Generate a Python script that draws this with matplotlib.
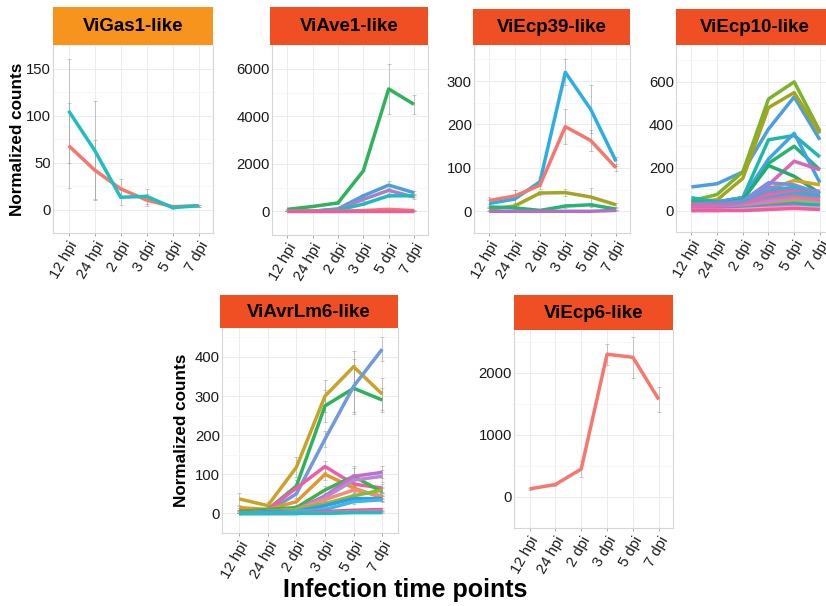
import matplotlib
matplotlib.use("Agg")
import matplotlib.pyplot as plt
import numpy as np

plt.rcParams['font.family'] = ['Liberation Sans', 'DejaVu Sans']

timepoints = ['12 hpi', '24 hpi', '2 dpi', '3 dpi', '5 dpi', '7 dpi']

# ---------------- data ----------------
gas1_series = [
    [68, 42, 22, 10, 3, 4],
    [105, 63, 13, 14, 2, 4],
]
gas1_err = [
    [45, 32, 10, 6, 1, 1],
    [55, 52, 8, 8, 1, 1],
]
gas1_colors = ['#F8766D', '#1DBFC0']

ave1_series = [
    [80, 200, 350, 1700, 5150, 4500],
    [0, 0, 100, 650, 1100, 780],
    [0, 0, 80, 500, 880, 600],
    [0, 0, 50, 300, 650, 650],
    [0, 0, 0, 30, 80, 30],
    [0, 0, 0, 0, 0, 0],
]
ave1_err = [
    [20, 40, 60, 0, 1050, 400],
    [0, 0, 20, 60, 180, 90],
    [0, 0, 15, 50, 120, 70],
    [0, 0, 10, 40, 60, 60],
    [0, 0, 0, 10, 20, 10],
    [0, 0, 0, 0, 0, 0],
]
ave1_colors = ['#2DB35A', '#4A9FE0', '#B07CC8', '#1BBCC0', '#F8766D', '#E6609E']

ecp39_series = [
    [18, 28, 68, 320, 235, 115],
    [25, 35, 60, 195, 163, 100],
    [5, 12, 42, 43, 33, 15],
    [10, 8, 2, 12, 15, 5],
    [0, 0, 0, 0, 0, 2],
]
ecp39_err = [
    [8, 22, 10, 30, 55, 10],
    [8, 15, 8, 40, 25, 8],
    [3, 5, 5, 8, 20, 5],
    [3, 3, 1, 4, 4, 2],
    [0, 0, 0, 0, 0, 1],
]
ecp39_colors = ['#2AAEE6', '#F8766D', '#A3A520', '#22B574', '#B36FC8']

ecp10_series = [
    [110, 125, 180, 380, 530, 330],
    [45, 75, 180, 520, 600, 370],
    [40, 50, 150, 480, 550, 360],
    [60, 40, 60, 330, 350, 250],
    [40, 40, 60, 220, 300, 190],
    [30, 40, 60, 240, 360, 130],
    [30, 30, 40, 120, 230, 190],
    [20, 30, 50, 210, 160, 80],
    [20, 20, 40, 100, 140, 120],
    [15, 25, 40, 110, 100, 90],
    [30, 30, 45, 130, 120, 80],
    [10, 20, 35, 90, 110, 60],
    [25, 25, 30, 80, 95, 70],
    [15, 15, 25, 70, 85, 55],
    [10, 15, 25, 60, 80, 70],
    [20, 20, 30, 55, 70, 40],
    [5, 10, 20, 45, 60, 45],
    [10, 10, 15, 40, 50, 35],
    [5, 5, 10, 30, 45, 30],
    [10, 10, 10, 25, 35, 20],
    [0, 5, 10, 20, 30, 25],
    [5, 5, 5, 15, 20, 10],
    [0, 0, 5, 10, 15, 10],
    [0, 0, 0, 5, 10, 5],
]
ecp10_colors = ['#4A9FE0', '#7CB32B', '#A3A520', '#1CB8A8', '#22B574', '#3FA4E3',
                '#D966B8', '#1FAE6E', '#D9A21B', '#9E80D6', '#7B8FE0', '#17BCE3',
                '#F06292', '#E46BBF', '#29B6D6', '#B07CC8', '#F8766D', '#C77CFF',
                '#8BC34A', '#F0609C', '#00BFC4', '#E46BBF', '#F5A0C0', '#EC5F9E']

avr_series = [
    [37, 20, 118, 300, 375, 305],
    [10, 10, 70, 275, 320, 290],
    [5, 5, 50, 190, 325, 420],
    [5, 10, 65, 120, 75, 65],
    [15, 10, 30, 100, 65, 40],
    [5, 10, 15, 60, 95, 55],
    [0, 5, 10, 45, 95, 105],
    [0, 5, 10, 40, 85, 95],
    [0, 5, 10, 35, 60, 45],
    [0, 5, 10, 25, 45, 60],
    [0, 5, 5, 20, 38, 38],
    [0, 0, 5, 10, 30, 35],
    [0, 0, 0, 5, 8, 10],
    [0, 0, 0, 3, 5, 8],
    [0, 0, 0, 0, 2, 2],
]
avr_err = [
    [15, 8, 25, 40, 40, 40],
    [5, 5, 15, 40, 60, 30],
    [3, 3, 10, 20, 70, 30],
    [3, 3, 10, 15, 20, 10],
    [5, 3, 8, 15, 15, 8],
    [2, 3, 5, 10, 20, 10],
    [0, 2, 4, 8, 25, 15],
    [0, 2, 4, 8, 15, 15],
    [0, 2, 4, 6, 10, 8],
    [0, 2, 4, 5, 8, 8],
    [0, 2, 2, 4, 6, 6],
    [0, 0, 2, 3, 5, 5],
    [0, 0, 0, 2, 2, 3],
    [0, 0, 0, 1, 2, 2],
    [0, 0, 0, 0, 1, 1],
]
avr_colors = ['#C9A227', '#2DB35A', '#7199DD', '#EE5EA6', '#E0982A', '#3BB34A',
              '#C06FD0', '#B889D4', '#F28C7C', '#8DB83A', '#2E9FE0', '#3DB6E8',
              '#F0506E', '#E46BBF', '#1DBFC0']

ecp6_series = [
    [130, 200, 450, 2300, 2250, 1570],
]
ecp6_err = [
    [20, 30, 130, 170, 330, 200],
]
ecp6_colors = ['#F8766D']

panels = [
    dict(title='ViGas1-like', strip='#F7941D', series=gas1_series, err=gas1_err,
         colors=gas1_colors, ylim=(-7.4, 167), yticks=[0, 50, 100, 150],
         box=(53, 45, 213, 233), stripbox=(53, 7, 213, 45), ylabel_x=25),
    dict(title='ViAve1-like', strip='#F04E23', series=ave1_series, err=ave1_err,
         colors=ave1_colors, ylim=(-287, 6539), yticks=[0, 2000, 4000, 6000],
         box=(272, 45, 428, 235), stripbox=(270, 7, 428, 45), ylabel_x=None),
    dict(title='ViEcp39-like', strip='#F04E23', series=ecp39_series, err=ecp39_err,
         colors=ecp39_colors, ylim=(-17, 383), yticks=[0, 100, 200, 300],
         box=(474, 45, 630, 233), stripbox=(473, 9, 630, 45), ylabel_x=None),
    dict(title='ViEcp10-like', strip='#F04E23', series=ecp10_series, err=None,
         colors=ecp10_colors, ylim=(-53, 772), yticks=[0, 200, 400, 600],
         box=(676, 45, 834, 232), stripbox=(676, 9, 834, 45), ylabel_x=None),
    dict(title='ViAvrLm6-like', strip='#F04E23', series=avr_series, err=avr_err,
         colors=avr_colors, ylim=(-29, 474), yticks=[0, 100, 200, 300, 400],
         box=(222, 328, 398, 533), stripbox=(220, 295, 398, 328), ylabel_x=189),
    dict(title='ViEcp6-like', strip='#F04E23', series=ecp6_series, err=ecp6_err,
         colors=ecp6_colors, ylim=(-69, 2690), yticks=[0, 1000, 2000],
         box=(514, 330, 673, 528), stripbox=(514, 295, 673, 330), ylabel_x=None),
]

W, H = 826, 606
fig = plt.figure(figsize=(W / 100, H / 100), dpi=100)


def frac(box):
    l, t, r, b = box
    return [l / W, 1 - b / H, (r - l) / W, (b - t) / H]


x = np.arange(len(timepoints))
for p in panels:
    ax = fig.add_axes(frac(p['box']))
    ax.set_xlim(-0.6, 5.55)
    ax.set_ylim(*p['ylim'])
    ax.set_yticks(p['yticks'])
    yt = p['yticks']
    step = yt[1] - yt[0]
    ax.set_yticks([v + step / 2 for v in yt] + [yt[0] - step / 2], minor=True)
    ax.set_xticks(x)
    ax.set_xticklabels(timepoints, rotation=60, ha='right', rotation_mode='anchor')
    ax.tick_params(axis='both', labelsize=10.7, colors='#1a1a1a', width=0.6)
    ax.tick_params(axis='x', which='major', color='#999999', length=2.5, pad=2)
    ax.tick_params(axis='y', which='major', length=0, pad=1.5)
    ax.tick_params(axis='y', which='minor', length=0)
    ax.grid(True, which='major', color='#ececec', lw=0.7)
    ax.grid(True, which='minor', axis='y', color='#f4f4f4', lw=0.5)
    ax.set_axisbelow(True)
    for s in ax.spines.values():
        s.set_color('#d6d6d6')
        s.set_linewidth(0.8)
    ax.spines['top'].set_visible(False)
    for i, ys in enumerate(p['series']):
        if p['err'] is not None:
            e = p['err'][i]
            ax.errorbar(x, ys, yerr=e, fmt='none', ecolor='#9a9a9a', elinewidth=0.6,
                        capsize=1.5, capthick=0.6, alpha=0.6, zorder=2)
        ax.plot(x, ys, color=p['colors'][i], lw=2.5, solid_capstyle='butt', zorder=3)
    if p['ylabel_x'] is not None:
        l, t, r, b = p['box']
        ax.set_ylabel('Normalized counts', fontsize=12.3, fontweight='bold')
        ax.yaxis.set_label_coords((p['ylabel_x'] - l) / (r - l), 0.5)
    sax = fig.add_axes(frac(p['stripbox']))
    sax.set_facecolor(p['strip'])
    sax.set_xticks([])
    sax.set_yticks([])
    for s in sax.spines.values():
        s.set_visible(False)
    sax.text(0.5, 0.48, p['title'], ha='center', va='center', fontsize=13.5,
             fontweight='bold', color='black', transform=sax.transAxes)

fig.text(405 / W, 1 - 590 / H, 'Infection time points', ha='center', va='center',
         fontsize=18, fontweight='bold')

fig.savefig('out.png', dpi=100)
